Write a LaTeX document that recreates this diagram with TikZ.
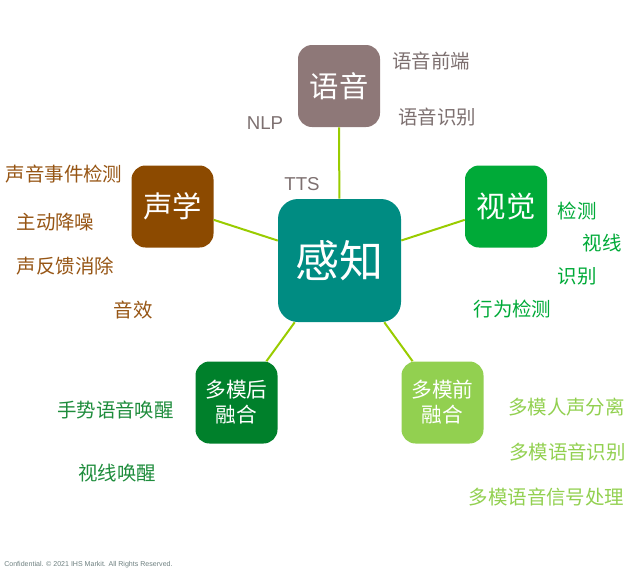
\documentclass[tikz,border=0pt]{standalone}
\usepackage{fontspec}
\setmainfont{Noto Sans CJK SC}
\newfontfamily\latin{Liberation Sans}
\usetikzlibrary{positioning}

\definecolor{hubteal}{RGB}{0,140,130}
\definecolor{voicegray}{RGB}{142,120,120}
\definecolor{soundbrown}{RGB}{140,74,0}
\definecolor{visiongreen}{RGB}{0,170,56}
\definecolor{latedarkgreen}{RGB}{0,128,43}
\definecolor{earlylightgreen}{RGB}{146,208,80}
\definecolor{linkgreen}{RGB}{153,204,0}
\definecolor{voicetext}{RGB}{125,112,112}
\definecolor{soundtext}{RGB}{150,85,20}
\definecolor{latetext}{RGB}{30,140,60}
\definecolor{footgray}{RGB}{110,128,128}

\tikzset{
	topicbox/.style={rounded corners=10.5pt, minimum width=61.5pt, minimum height=61.5pt, inner sep=0pt, text=white, align=center, font=\fontsize{22}{26}\selectfont},
	fusionbox/.style={topicbox, font=\fontsize{15.5}{18.75}\selectfont},
	hubbox/.style={topicbox, rounded corners=15pt, minimum width=92.25pt, minimum height=92.25pt, fill=hubteal, font=\fontsize{33}{38}\selectfont},
	link/.style={line width=1.5pt, color=linkgreen},
	item/.style={inner sep=0pt, font=\fontsize{14.6}{17}\selectfont},
	latinitem/.style={inner sep=0pt, text=voicetext, font=\latin\fontsize{14}{17}\selectfont}
}

\begin{document}
\begin{tikzpicture}[x=0.75pt, y=-0.75pt]
		%%%%% START %%%%%
		\useasboundingbox (0, 0) rectangle (641, 579);
		
		\node[hubbox] (hub) at (339.5, 260.5) {感知};
		
		\node[topicbox, fill=voicegray] (voice) at (339, 86) {语音};
		\node[topicbox, fill=soundbrown] (sound) at (172.5, 206.5) {声学};
		\node[topicbox, fill=visiongreen] (vision) at (506, 206.5) {视觉};
		\node[fusionbox, fill=earlylightgreen] (early) at (442.5, 402.5) {多模前\\融合};
		\node[fusionbox, fill=latedarkgreen] (late) at (236.5, 402.5) {多模后\\融合};
		
		\draw[link] (hub) -- (voice);
		\draw[link] (hub) -- (sound);
		\draw[link] (hub) -- (vision);
		\draw[link] (hub) -- (early);
		\draw[link] (hub) -- (late);
		
		% voice
		\node[item, text=voicetext] (voicefront) at (431, 61) {语音前端};
		\node[item, text=voicetext] (voiceasr) at (437, 117) {语音识别};
		\node[latinitem] (nlp) at (265, 123.5) {NLP};
		\node[latinitem] (tts) at (302, 184.5) {TTS};
		
		% sound
		\node[item, text=soundtext] (event) at (64, 174) {声音事件检测};
		\node[item, text=soundtext] (anc) at (55.5, 222.5) {主动降噪};
		\node[item, text=soundtext] (aec) at (65.5, 266) {声反馈消除};
		\node[item, text=soundtext] (effect) at (133, 310) {音效};
		
		% vision
		\node[item, text=visiongreen] (detect) at (577, 211) {检测};
		\node[item, text=visiongreen] (gaze) at (602, 243) {视线};
		\node[item, text=visiongreen] (recog) at (577, 276) {识别};
		\node[item, text=visiongreen] (action) at (512.5, 309) {行为检测};
		
		% early fusion
		\node[item, text=earlylightgreen] (separate) at (566.5, 407) {多模人声分离};
		\node[item, text=earlylightgreen] (mmasr) at (567.5, 452.5) {多模语音识别};
		\node[item, text=earlylightgreen] (signal) at (546.5, 497) {多模语音信号处理};
		
		% late fusion
		\node[item, text=latetext] (gesture) at (115.5, 410) {手势语音唤醒};
		\node[item, text=latetext] (gazewake) at (117, 473) {视线唤醒};
		
		\node[inner sep=0pt, anchor=west, text=footgray, font=\latin\fontsize{5.3}{6.5}\selectfont] (footer) at (4, 565) {Confidential. © 2021 IHS Markit. All Rights Reserved.};
		%%%%% END %%%%%
\end{tikzpicture}
\end{document}
